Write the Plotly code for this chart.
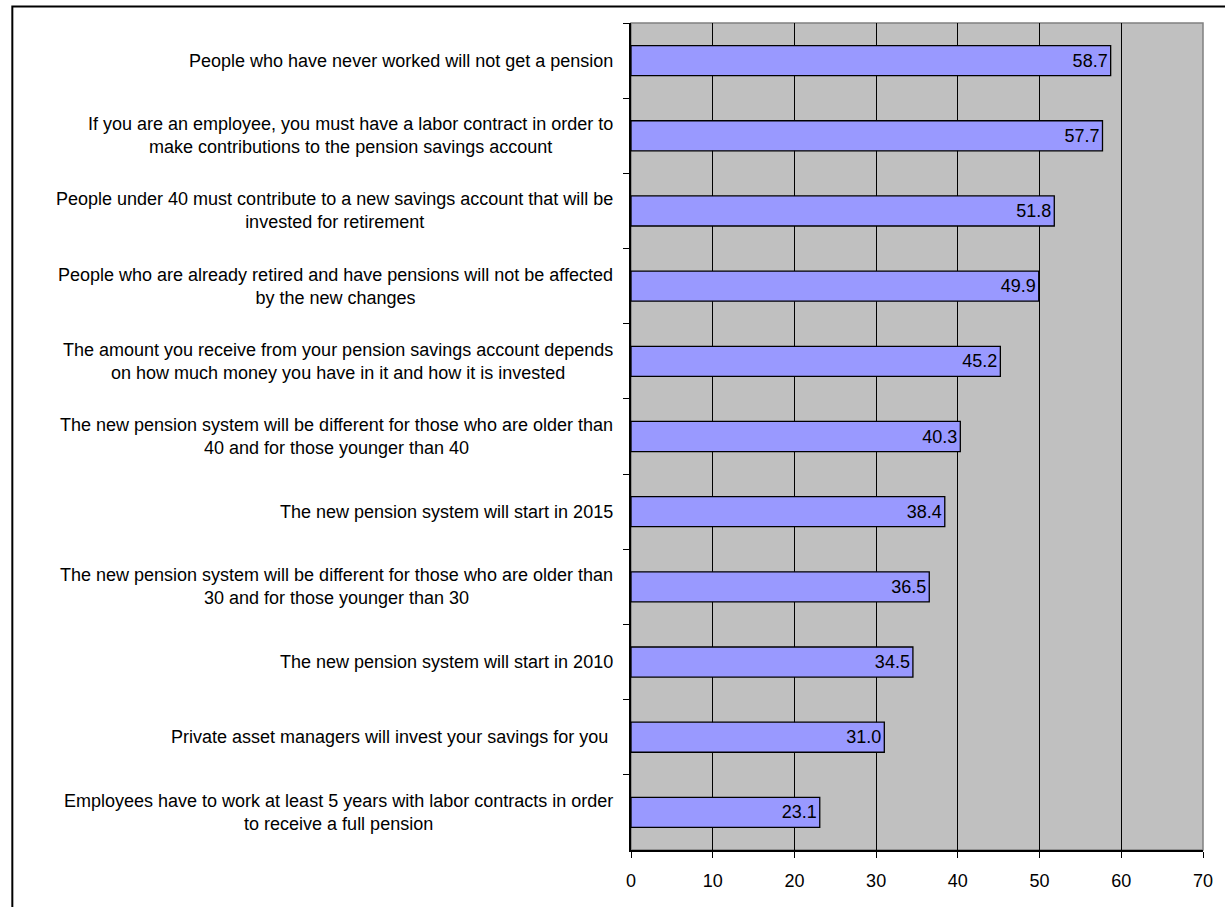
import plotly.graph_objects as go

categories = [
    "People who have never worked will not get a pension",
    "If you are an employee, you must have a labor contract in order to<br>make contributions to the pension savings account",
    "People under 40 must contribute to a new savings account that will be<br>invested for retirement",
    "People who are already retired and have pensions will not be affected<br>by the new changes",
    "The amount you receive from your pension savings account depends<br>on how much money you have in it and how it is invested",
    "The new pension system will be different for those who are older than<br>40 and for those younger than 40",
    "The new pension system will start in 2015",
    "The new pension system will be different for those who are older than<br>30 and for those younger than 30",
    "The new pension system will start in 2010",
    "Private asset managers will invest your savings for you ",
    "Employees have to work at least 5 years with labor contracts in order<br>to receive a full pension",
]
values = [58.7, 57.7, 51.8, 49.9, 45.2, 40.3, 38.4, 36.5, 34.5, 31.0, 23.1]
x_ticks = [0, 10, 20, 30, 40, 50, 60, 70]

FONT = "Liberation Sans, Arial, sans-serif"
W, H = 1225, 907
L, R, T, B = 631, 18, 23, 57
pw, ph = W - L - R, H - T - B
LABEL_SIZE = 18

fig = go.Figure()
fig.add_trace(go.Bar(
    y=categories, x=values, orientation="h",
    marker=dict(color="#9999FF", line=dict(color="black", width=1.3)),
    width=0.4,
    text=[f"{v:.1f}" for v in values],
    textposition="inside", insidetextanchor="end",
    textfont=dict(family=FONT, size=18, color="black"),
    constraintext="none",
    cliponaxis=False,
))

for c in categories:
    fig.add_annotation(
        x=0, xref="paper", y=c, yref="y", text=c, showarrow=False,
        xanchor="right", yanchor="middle", align="center", xshift=-16,
        font=dict(family=FONT, size=LABEL_SIZE, color="black"),
    )

fig.add_shape(type="rect", xref="paper", yref="paper",
              x0=(8 - L) / pw, x1=(W + 20 - L) / pw,
              y0=-(H + 20 - T - ph) / ph, y1=1 + (T - 6.5) / ph,
              line=dict(color="black", width=2), layer="above")
fig.add_shape(type="rect", xref="paper", yref="paper", x0=0, x1=1, y0=0, y1=1,
              line=dict(color="#808080", width=1.5), layer="below")

fig.update_layout(
    width=W, height=H,
    margin=dict(l=L, r=R, t=T, b=B),
    paper_bgcolor="white", plot_bgcolor="#C0C0C0",
    showlegend=False,
    font=dict(family=FONT, size=18, color="black"),
    xaxis=dict(range=[0, 70], tickvals=x_ticks, showgrid=True,
               gridcolor="black", gridwidth=1.3, zeroline=False,
               showline=True, linecolor="black", linewidth=1.5,
               ticks="outside", ticklen=6, tickcolor="black",
               tickfont=dict(family=FONT, size=18), ticklabelstandoff=8),
    yaxis=dict(autorange="reversed", showticklabels=False,
               ticks="outside", tickson="boundaries", ticklen=6,
               tickcolor="black", showgrid=False,
               showline=True, linecolor="black", linewidth=1.5),
    bargap=0.6,
)

fig.write_html("out.html")
